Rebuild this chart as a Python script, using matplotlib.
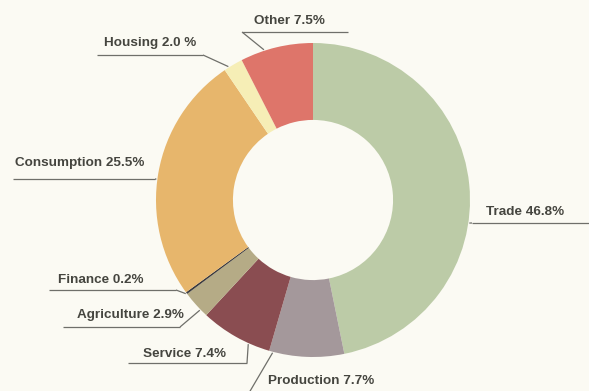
import numpy as np
import matplotlib.pyplot as plt

# loan structure by sector, in percent (clockwise from 12 o'clock)
sectors = ['Trade', 'Production', 'Service', 'Agriculture', 'Finance',
           'Consumption', 'Housing', 'Other']
shares = [46.8, 7.7, 7.4, 2.9, 0.2, 25.5, 2.0, 7.5]
pct_sep = ['', '', '', '', '', '', ' ', '']
colors = ['#bccba7', '#a4989b', '#8a4d51', '#b5ab86', '#3b3a3e',
          '#e7b66c', '#f6eeb6', '#de756a']

# label layout: text left/centre, underline x0..x1 at y, which end bends to the ring
label_xy = [(486, 212), (268, 381), (143, 354), (77, 315), (58, 280),
            (15, 163), (104, 43), (254, 21)]
underline = [(472, 589, 223), (246, 380, 398), (128, 247, 363), (63, 180, 327),
             (49, 176, 290), (13, 155, 179), (97, 203, 55), (242, 348, 32)]
elbow = ['left', 'left', 'right', 'right', 'right', 'right', 'right', 'left']
touch = [0.584, 0.95, 0.30, 0.28, 0.5, 0.475, 0.25, 0.33]

W, H = 589, 391
cx, cy, r_out = 313, 200, 157
ring = 0.49

fig = plt.figure(figsize=(W / 100, H / 100), dpi=100)
fig.patch.set_facecolor('#fbfaf3')
ax = fig.add_axes([0, 0, 1, 1])
ax.set_facecolor('#fbfaf3')

# y axis runs downward, so counterclock in data space is clockwise on screen
ax.pie(shares, colors=colors, startangle=-90, counterclock=True,
       radius=r_out, center=(cx, cy),
       wedgeprops=dict(width=r_out * ring, linewidth=0))

ax.set_xlim(0, W)
ax.set_ylim(H, 0)
ax.set_aspect('equal')
ax.axis('off')

cum = np.concatenate([[0], np.cumsum(shares)])
line_kw = dict(color='#6f6f6a', linewidth=0.9, solid_capstyle='butt')
for i, name in enumerate(sectors):
    ang = np.deg2rad(-90 + (cum[i] + touch[i] * shares[i]) * 3.6)
    px = cx + (r_out + 1) * np.cos(ang)
    py = cy + (r_out + 1) * np.sin(ang)
    x0, x1, y = underline[i]
    ax.plot([x0, x1], [y, y], **line_kw)
    ex = x0 if elbow[i] == 'left' else x1
    ax.plot([ex, px], [y, py], **line_kw)
    tx, ty = label_xy[i]
    ax.text(tx, ty, f'{name} {shares[i]:.1f}{pct_sep[i]}%', ha='left', va='center',
            fontsize=9.7, fontweight='bold', color='#45453f',
            family=['Liberation Sans', 'DejaVu Sans'])

fig.savefig('out.png', dpi=100, facecolor=fig.get_facecolor())
